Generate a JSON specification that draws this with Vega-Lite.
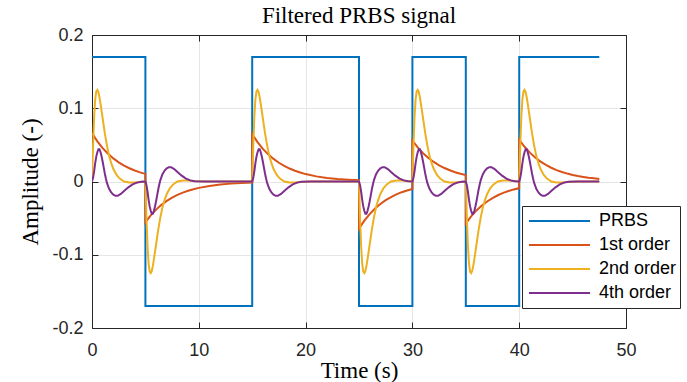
{
  "$schema": "https://vega.github.io/schema/vega-lite/v6.json",
  "autosize": "none",
  "width": 534,
  "height": 293,
  "padding": {"left": 92, "top": 35, "right": 61, "bottom": 54},
  "background": "white",
  "title": {"text": "Filtered PRBS signal", "font": "Liberation Serif", "fontSize": 23, "fontWeight": "normal", "color": "#000000", "offset": 5, "dy": 7, "anchor": "middle", "frame": "group"},
  "config": {
    "view": {"stroke": null},
    "axis": {"domainColor": "#262626", "tickColor": "#262626", "labelColor": "#262626", "labelFont": "Liberation Sans", "labelFontSize": 18, "titleFont": "Liberation Serif", "titleFontSize": 23, "titleFontWeight": "normal", "titleColor": "#000000", "gridColor": "#e6e6e6", "tickSize": -6, "domainWidth": 1, "tickWidth": 1, "labelFlush": false},
    "legend": {"orient": "none", "legendX": 430, "legendY": 171, "strokeColor": "#262626", "fillColor": "white", "padding": 3, "rowPadding": 0, "clipHeight": 24, "symbolType": "stroke", "symbolSize": 3721, "symbolStrokeWidth": 2, "symbolOffset": 3, "labelOffset": 8, "labelFont": "Liberation Sans", "labelFontSize": 18, "labelColor": "#000000", "cornerRadius": 0}
  },
  "encoding": {
    "x": {"field": "t", "type": "quantitative", "scale": {"domain": [0, 50], "nice": false, "zero": false}},
    "y": {"field": "v", "type": "quantitative", "scale": {"domain": [-0.2, 0.2], "nice": false, "zero": false}}
  },
  "resolve": {"axis": {"x": "independent", "y": "independent"}},
  "layer": [
    {
      "data": {"values": [
        {"t": 0, "v": 0.17}, {"t": 5, "v": 0.17}, {"t": 5.001, "v": -0.17}, {"t": 15, "v": -0.17}, {"t": 15.001, "v": 0.17}, {"t": 25, "v": 0.17}, {"t": 25.001, "v": -0.17}, {"t": 30, "v": -0.17}, {"t": 30.001, "v": 0.17}, {"t": 35, "v": 0.17}, {"t": 35.001, "v": -0.17}, {"t": 40, "v": -0.17}, {"t": 40.001, "v": 0.17}, {"t": 47.5, "v": 0.17}
      ]},
      "mark": {"type": "line", "strokeWidth": 2, "clip": true},
      "encoding": {
        "x": {"field": "t", "type": "quantitative", "title": "Time (s)", "axis": {"orient": "bottom", "values": [0, 10, 20, 30, 40, 50], "grid": true, "labelPadding": 19, "titleBaseline": "alphabetic", "titleY": 49, "titleX": 267}},
        "y": {"field": "v", "type": "quantitative", "title": "Amplitude (-)", "axis": {"orient": "left", "values": [-0.2, -0.1, 0, 0.1, 0.2], "grid": true, "labelPadding": 15, "labelExpr": "datum.value == 0 ? '0' : (datum.value < 0 ? '-' : '') + format(abs(datum.value), '.1f')", "titleBaseline": "alphabetic", "titleX": -55, "titleY": 146.5, "titleAngle": -90}},
        "color": {"datum": "PRBS", "type": "nominal", "scale": {"domain": ["PRBS", "1st order", "2nd order", "4th order"], "range": ["#0072BD", "#D95319", "#EDB120", "#7E2F8E"]}, "legend": {"title": null}}
      }
    },
    {
      "data": {"values": [
        {"t": 0, "v": 0.066}, {"t": 0.5, "v": 0.0548}, {"t": 1, "v": 0.0456}, {"t": 1.5, "v": 0.0379}, {"t": 2, "v": 0.0315}, {"t": 2.5, "v": 0.0261}, {"t": 3, "v": 0.0217}, {"t": 3.5, "v": 0.0181}, {"t": 4, "v": 0.015}, {"t": 4.5, "v": 0.0125}, {"t": 5, "v": 0.0104},
        {"t": 5.001, "v": -0.0556}, {"t": 5.5, "v": -0.0462}, {"t": 6, "v": -0.0384}, {"t": 6.5, "v": -0.0319}, {"t": 7, "v": -0.0265}, {"t": 7.5, "v": -0.022}, {"t": 8, "v": -0.0183}, {"t": 8.5, "v": -0.0152}, {"t": 9, "v": -0.0126}, {"t": 9.5, "v": -0.0105}, {"t": 10, "v": -0.0087}, {"t": 11, "v": -0.006}, {"t": 12, "v": -0.0042}, {"t": 13, "v": -0.0029}, {"t": 14, "v": -0.002}, {"t": 15, "v": -0.0014},
        {"t": 15.001, "v": 0.0646}, {"t": 15.5, "v": 0.0537}, {"t": 16, "v": 0.0446}, {"t": 16.5, "v": 0.0371}, {"t": 17, "v": 0.0308}, {"t": 17.5, "v": 0.0256}, {"t": 18, "v": 0.0213}, {"t": 18.5, "v": 0.0177}, {"t": 19, "v": 0.0147}, {"t": 19.5, "v": 0.0122}, {"t": 20, "v": 0.0101}, {"t": 21, "v": 0.007}, {"t": 22, "v": 0.0048}, {"t": 23, "v": 0.0033}, {"t": 24, "v": 0.0023}, {"t": 25, "v": 0.0016},
        {"t": 25.001, "v": -0.0644}, {"t": 25.5, "v": -0.0535}, {"t": 26, "v": -0.0445}, {"t": 26.5, "v": -0.037}, {"t": 27, "v": -0.0307}, {"t": 27.5, "v": -0.0255}, {"t": 28, "v": -0.0212}, {"t": 28.5, "v": -0.0176}, {"t": 29, "v": -0.0146}, {"t": 29.5, "v": -0.0122}, {"t": 30, "v": -0.0101},
        {"t": 30.001, "v": 0.0559}, {"t": 30.5, "v": 0.0465}, {"t": 31, "v": 0.0386}, {"t": 31.5, "v": 0.0321}, {"t": 32, "v": 0.0267}, {"t": 32.5, "v": 0.0221}, {"t": 33, "v": 0.0184}, {"t": 33.5, "v": 0.0153}, {"t": 34, "v": 0.0127}, {"t": 34.5, "v": 0.0106}, {"t": 35, "v": 0.0088},
        {"t": 35.001, "v": -0.0572}, {"t": 35.5, "v": -0.0475}, {"t": 36, "v": -0.0395}, {"t": 36.5, "v": -0.0328}, {"t": 37, "v": -0.0273}, {"t": 37.5, "v": -0.0227}, {"t": 38, "v": -0.0188}, {"t": 38.5, "v": -0.0156}, {"t": 39, "v": -0.013}, {"t": 39.5, "v": -0.0108}, {"t": 40, "v": -0.009},
        {"t": 40.001, "v": 0.057}, {"t": 40.5, "v": 0.0474}, {"t": 41, "v": 0.0394}, {"t": 41.5, "v": 0.0327}, {"t": 42, "v": 0.0272}, {"t": 42.5, "v": 0.0226}, {"t": 43, "v": 0.0188}, {"t": 43.5, "v": 0.0156}, {"t": 44, "v": 0.013}, {"t": 44.5, "v": 0.0108}, {"t": 45, "v": 0.0089}, {"t": 45.5, "v": 0.0074}, {"t": 46, "v": 0.0062}, {"t": 46.5, "v": 0.0051}, {"t": 47, "v": 0.0043}, {"t": 47.5, "v": 0.0035}
      ]},
      "mark": {"type": "line", "strokeWidth": 2, "clip": true},
      "encoding": {
        "x": {"field": "t", "type": "quantitative", "axis": {"orient": "top", "values": [0, 10, 20, 30, 40, 50], "labels": false, "title": null, "grid": false}},
        "y": {"field": "v", "type": "quantitative", "axis": {"orient": "right", "values": [-0.2, -0.1, 0, 0.1, 0.2], "labels": false, "title": null, "grid": false}},
        "color": {"datum": "1st order", "type": "nominal"}
      }
    },
    {
      "data": {"values": [
        {"t": 0, "v": 0}, {"t": 0.1, "v": 0.05}, {"t": 0.2, "v": 0.088}, {"t": 0.3, "v": 0.112}, {"t": 0.4, "v": 0.123}, {"t": 0.5, "v": 0.125}, {"t": 0.6, "v": 0.122}, {"t": 0.7, "v": 0.115}, {"t": 0.8, "v": 0.106}, {"t": 0.9, "v": 0.096}, {"t": 1, "v": 0.086}, {"t": 1.2, "v": 0.066}, {"t": 1.4, "v": 0.049}, {"t": 1.6, "v": 0.035}, {"t": 1.8, "v": 0.025}, {"t": 2, "v": 0.017}, {"t": 2.3, "v": 0.009}, {"t": 2.6, "v": 0.004}, {"t": 3, "v": 0}, {"t": 3.5, "v": -0.0015}, {"t": 4, "v": -0.0015}, {"t": 4.5, "v": -0.0008},
        {"t": 5, "v": 0}, {"t": 5.1, "v": -0.05}, {"t": 5.2, "v": -0.088}, {"t": 5.3, "v": -0.112}, {"t": 5.4, "v": -0.123}, {"t": 5.5, "v": -0.125}, {"t": 5.6, "v": -0.122}, {"t": 5.7, "v": -0.115}, {"t": 5.8, "v": -0.106}, {"t": 5.9, "v": -0.096}, {"t": 6, "v": -0.086}, {"t": 6.2, "v": -0.066}, {"t": 6.4, "v": -0.049}, {"t": 6.6, "v": -0.035}, {"t": 6.8, "v": -0.025}, {"t": 7, "v": -0.017}, {"t": 7.3, "v": -0.009}, {"t": 7.6, "v": -0.004}, {"t": 8, "v": 0}, {"t": 8.5, "v": 0.0015}, {"t": 9, "v": 0.0015}, {"t": 9.5, "v": 0.0008}, {"t": 10.5, "v": 0},
        {"t": 15, "v": 0}, {"t": 15.1, "v": 0.05}, {"t": 15.2, "v": 0.088}, {"t": 15.3, "v": 0.112}, {"t": 15.4, "v": 0.123}, {"t": 15.5, "v": 0.125}, {"t": 15.6, "v": 0.122}, {"t": 15.7, "v": 0.115}, {"t": 15.8, "v": 0.106}, {"t": 15.9, "v": 0.096}, {"t": 16, "v": 0.086}, {"t": 16.2, "v": 0.066}, {"t": 16.4, "v": 0.049}, {"t": 16.6, "v": 0.035}, {"t": 16.8, "v": 0.025}, {"t": 17, "v": 0.017}, {"t": 17.3, "v": 0.009}, {"t": 17.6, "v": 0.004}, {"t": 18, "v": 0}, {"t": 18.5, "v": -0.0015}, {"t": 19, "v": -0.0015}, {"t": 19.5, "v": -0.0008}, {"t": 20.5, "v": 0},
        {"t": 25, "v": 0}, {"t": 25.1, "v": -0.05}, {"t": 25.2, "v": -0.088}, {"t": 25.3, "v": -0.112}, {"t": 25.4, "v": -0.123}, {"t": 25.5, "v": -0.125}, {"t": 25.6, "v": -0.122}, {"t": 25.7, "v": -0.115}, {"t": 25.8, "v": -0.106}, {"t": 25.9, "v": -0.096}, {"t": 26, "v": -0.086}, {"t": 26.2, "v": -0.066}, {"t": 26.4, "v": -0.049}, {"t": 26.6, "v": -0.035}, {"t": 26.8, "v": -0.025}, {"t": 27, "v": -0.017}, {"t": 27.3, "v": -0.009}, {"t": 27.6, "v": -0.004}, {"t": 28, "v": 0}, {"t": 28.5, "v": 0.0015}, {"t": 29, "v": 0.0015}, {"t": 29.5, "v": 0.0008},
        {"t": 30, "v": 0}, {"t": 30.1, "v": 0.05}, {"t": 30.2, "v": 0.088}, {"t": 30.3, "v": 0.112}, {"t": 30.4, "v": 0.123}, {"t": 30.5, "v": 0.125}, {"t": 30.6, "v": 0.122}, {"t": 30.7, "v": 0.115}, {"t": 30.8, "v": 0.106}, {"t": 30.9, "v": 0.096}, {"t": 31, "v": 0.086}, {"t": 31.2, "v": 0.066}, {"t": 31.4, "v": 0.049}, {"t": 31.6, "v": 0.035}, {"t": 31.8, "v": 0.025}, {"t": 32, "v": 0.017}, {"t": 32.3, "v": 0.009}, {"t": 32.6, "v": 0.004}, {"t": 33, "v": 0}, {"t": 33.5, "v": -0.0015}, {"t": 34, "v": -0.0015}, {"t": 34.5, "v": -0.0008},
        {"t": 35, "v": 0}, {"t": 35.1, "v": -0.05}, {"t": 35.2, "v": -0.088}, {"t": 35.3, "v": -0.112}, {"t": 35.4, "v": -0.123}, {"t": 35.5, "v": -0.125}, {"t": 35.6, "v": -0.122}, {"t": 35.7, "v": -0.115}, {"t": 35.8, "v": -0.106}, {"t": 35.9, "v": -0.096}, {"t": 36, "v": -0.086}, {"t": 36.2, "v": -0.066}, {"t": 36.4, "v": -0.049}, {"t": 36.6, "v": -0.035}, {"t": 36.8, "v": -0.025}, {"t": 37, "v": -0.017}, {"t": 37.3, "v": -0.009}, {"t": 37.6, "v": -0.004}, {"t": 38, "v": 0}, {"t": 38.5, "v": 0.0015}, {"t": 39, "v": 0.0015}, {"t": 39.5, "v": 0.0008},
        {"t": 40, "v": 0}, {"t": 40.1, "v": 0.05}, {"t": 40.2, "v": 0.088}, {"t": 40.3, "v": 0.112}, {"t": 40.4, "v": 0.123}, {"t": 40.5, "v": 0.125}, {"t": 40.6, "v": 0.122}, {"t": 40.7, "v": 0.115}, {"t": 40.8, "v": 0.106}, {"t": 40.9, "v": 0.096}, {"t": 41, "v": 0.086}, {"t": 41.2, "v": 0.066}, {"t": 41.4, "v": 0.049}, {"t": 41.6, "v": 0.035}, {"t": 41.8, "v": 0.025}, {"t": 42, "v": 0.017}, {"t": 42.3, "v": 0.009}, {"t": 42.6, "v": 0.004}, {"t": 43, "v": 0}, {"t": 43.5, "v": -0.0015}, {"t": 44, "v": -0.0015}, {"t": 44.5, "v": -0.0008}, {"t": 45.5, "v": 0}, {"t": 47.5, "v": 0}
      ]},
      "mark": {"type": "line", "strokeWidth": 2, "clip": true},
      "encoding": {
        "x": {"field": "t", "type": "quantitative", "axis": null},
        "y": {"field": "v", "type": "quantitative", "axis": null},
        "color": {"datum": "2nd order", "type": "nominal"}
      }
    },
    {
      "data": {"values": [
        {"t": 0, "v": 0}, {"t": 0.1, "v": 0.005}, {"t": 0.2, "v": 0.014}, {"t": 0.3, "v": 0.025}, {"t": 0.4, "v": 0.034}, {"t": 0.5, "v": 0.04}, {"t": 0.6, "v": 0.044}, {"t": 0.7, "v": 0.044}, {"t": 0.8, "v": 0.04}, {"t": 0.9, "v": 0.034}, {"t": 1, "v": 0.027}, {"t": 1.1, "v": 0.019}, {"t": 1.2, "v": 0.011}, {"t": 1.3, "v": 0.004}, {"t": 1.4, "v": -0.002}, {"t": 1.6, "v": -0.01}, {"t": 1.8, "v": -0.015}, {"t": 2, "v": -0.018}, {"t": 2.2, "v": -0.0195}, {"t": 2.4, "v": -0.0195}, {"t": 2.7, "v": -0.017}, {"t": 3, "v": -0.013}, {"t": 3.4, "v": -0.008}, {"t": 3.8, "v": -0.004}, {"t": 4.2, "v": -0.0015}, {"t": 4.6, "v": -0.0003},
        {"t": 5, "v": 0}, {"t": 5.1, "v": -0.005}, {"t": 5.2, "v": -0.014}, {"t": 5.3, "v": -0.025}, {"t": 5.4, "v": -0.034}, {"t": 5.5, "v": -0.04}, {"t": 5.6, "v": -0.044}, {"t": 5.7, "v": -0.044}, {"t": 5.8, "v": -0.04}, {"t": 5.9, "v": -0.034}, {"t": 6, "v": -0.027}, {"t": 6.1, "v": -0.019}, {"t": 6.2, "v": -0.011}, {"t": 6.3, "v": -0.004}, {"t": 6.4, "v": 0.002}, {"t": 6.6, "v": 0.01}, {"t": 6.8, "v": 0.015}, {"t": 7, "v": 0.018}, {"t": 7.2, "v": 0.0195}, {"t": 7.4, "v": 0.0195}, {"t": 7.7, "v": 0.017}, {"t": 8, "v": 0.013}, {"t": 8.4, "v": 0.008}, {"t": 8.8, "v": 0.004}, {"t": 9.2, "v": 0.0015}, {"t": 9.6, "v": 0.0003}, {"t": 10.5, "v": 0},
        {"t": 15, "v": 0}, {"t": 15.1, "v": 0.005}, {"t": 15.2, "v": 0.014}, {"t": 15.3, "v": 0.025}, {"t": 15.4, "v": 0.034}, {"t": 15.5, "v": 0.04}, {"t": 15.6, "v": 0.044}, {"t": 15.7, "v": 0.044}, {"t": 15.8, "v": 0.04}, {"t": 15.9, "v": 0.034}, {"t": 16, "v": 0.027}, {"t": 16.1, "v": 0.019}, {"t": 16.2, "v": 0.011}, {"t": 16.3, "v": 0.004}, {"t": 16.4, "v": -0.002}, {"t": 16.6, "v": -0.01}, {"t": 16.8, "v": -0.015}, {"t": 17, "v": -0.018}, {"t": 17.2, "v": -0.0195}, {"t": 17.4, "v": -0.0195}, {"t": 17.7, "v": -0.017}, {"t": 18, "v": -0.013}, {"t": 18.4, "v": -0.008}, {"t": 18.8, "v": -0.004}, {"t": 19.2, "v": -0.0015}, {"t": 19.6, "v": -0.0003}, {"t": 20.5, "v": 0},
        {"t": 25, "v": 0}, {"t": 25.1, "v": -0.005}, {"t": 25.2, "v": -0.014}, {"t": 25.3, "v": -0.025}, {"t": 25.4, "v": -0.034}, {"t": 25.5, "v": -0.04}, {"t": 25.6, "v": -0.044}, {"t": 25.7, "v": -0.044}, {"t": 25.8, "v": -0.04}, {"t": 25.9, "v": -0.034}, {"t": 26, "v": -0.027}, {"t": 26.1, "v": -0.019}, {"t": 26.2, "v": -0.011}, {"t": 26.3, "v": -0.004}, {"t": 26.4, "v": 0.002}, {"t": 26.6, "v": 0.01}, {"t": 26.8, "v": 0.015}, {"t": 27, "v": 0.018}, {"t": 27.2, "v": 0.0195}, {"t": 27.4, "v": 0.0195}, {"t": 27.7, "v": 0.017}, {"t": 28, "v": 0.013}, {"t": 28.4, "v": 0.008}, {"t": 28.8, "v": 0.004}, {"t": 29.2, "v": 0.0015}, {"t": 29.6, "v": 0.0003},
        {"t": 30, "v": 0}, {"t": 30.1, "v": 0.005}, {"t": 30.2, "v": 0.014}, {"t": 30.3, "v": 0.025}, {"t": 30.4, "v": 0.034}, {"t": 30.5, "v": 0.04}, {"t": 30.6, "v": 0.044}, {"t": 30.7, "v": 0.044}, {"t": 30.8, "v": 0.04}, {"t": 30.9, "v": 0.034}, {"t": 31, "v": 0.027}, {"t": 31.1, "v": 0.019}, {"t": 31.2, "v": 0.011}, {"t": 31.3, "v": 0.004}, {"t": 31.4, "v": -0.002}, {"t": 31.6, "v": -0.01}, {"t": 31.8, "v": -0.015}, {"t": 32, "v": -0.018}, {"t": 32.2, "v": -0.0195}, {"t": 32.4, "v": -0.0195}, {"t": 32.7, "v": -0.017}, {"t": 33, "v": -0.013}, {"t": 33.4, "v": -0.008}, {"t": 33.8, "v": -0.004}, {"t": 34.2, "v": -0.0015}, {"t": 34.6, "v": -0.0003},
        {"t": 35, "v": 0}, {"t": 35.1, "v": -0.005}, {"t": 35.2, "v": -0.014}, {"t": 35.3, "v": -0.025}, {"t": 35.4, "v": -0.034}, {"t": 35.5, "v": -0.04}, {"t": 35.6, "v": -0.044}, {"t": 35.7, "v": -0.044}, {"t": 35.8, "v": -0.04}, {"t": 35.9, "v": -0.034}, {"t": 36, "v": -0.027}, {"t": 36.1, "v": -0.019}, {"t": 36.2, "v": -0.011}, {"t": 36.3, "v": -0.004}, {"t": 36.4, "v": 0.002}, {"t": 36.6, "v": 0.01}, {"t": 36.8, "v": 0.015}, {"t": 37, "v": 0.018}, {"t": 37.2, "v": 0.0195}, {"t": 37.4, "v": 0.0195}, {"t": 37.7, "v": 0.017}, {"t": 38, "v": 0.013}, {"t": 38.4, "v": 0.008}, {"t": 38.8, "v": 0.004}, {"t": 39.2, "v": 0.0015}, {"t": 39.6, "v": 0.0003},
        {"t": 40, "v": 0}, {"t": 40.1, "v": 0.005}, {"t": 40.2, "v": 0.014}, {"t": 40.3, "v": 0.025}, {"t": 40.4, "v": 0.034}, {"t": 40.5, "v": 0.04}, {"t": 40.6, "v": 0.044}, {"t": 40.7, "v": 0.044}, {"t": 40.8, "v": 0.04}, {"t": 40.9, "v": 0.034}, {"t": 41, "v": 0.027}, {"t": 41.1, "v": 0.019}, {"t": 41.2, "v": 0.011}, {"t": 41.3, "v": 0.004}, {"t": 41.4, "v": -0.002}, {"t": 41.6, "v": -0.01}, {"t": 41.8, "v": -0.015}, {"t": 42, "v": -0.018}, {"t": 42.2, "v": -0.0195}, {"t": 42.4, "v": -0.0195}, {"t": 42.7, "v": -0.017}, {"t": 43, "v": -0.013}, {"t": 43.4, "v": -0.008}, {"t": 43.8, "v": -0.004}, {"t": 44.2, "v": -0.0015}, {"t": 44.6, "v": -0.0003}, {"t": 45.5, "v": 0}, {"t": 47.5, "v": 0}
      ]},
      "mark": {"type": "line", "strokeWidth": 2, "clip": true},
      "encoding": {
        "x": {"field": "t", "type": "quantitative", "axis": null},
        "y": {"field": "v", "type": "quantitative", "axis": null},
        "color": {"datum": "4th order", "type": "nominal"}
      }
    }
  ]
}
